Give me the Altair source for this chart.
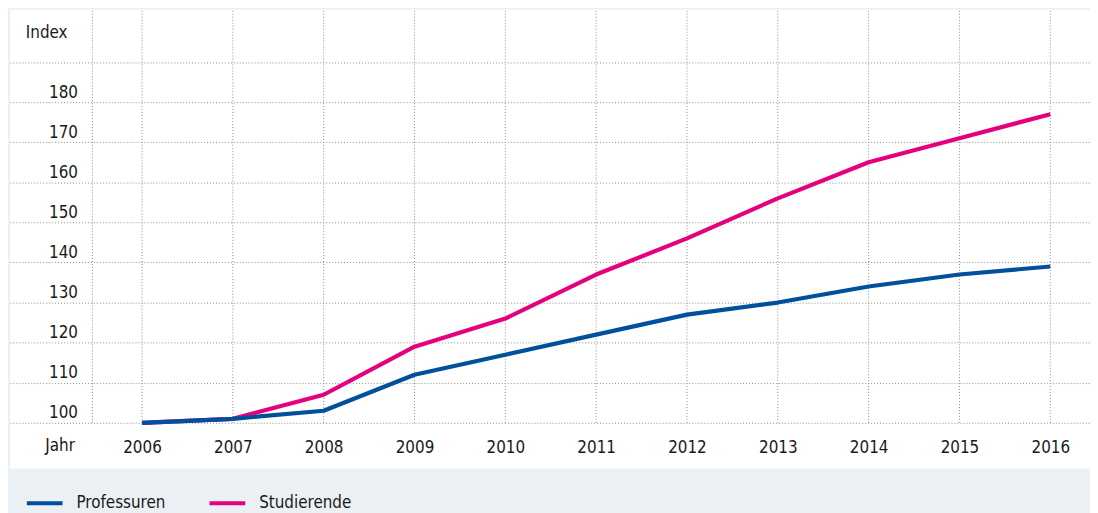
import altair as alt
import pandas as pd

years = [2006, 2007, 2008, 2009, 2010, 2011, 2012, 2013, 2014, 2015, 2016]
professuren = [100, 101, 103, 112, 117, 122, 127, 130, 134, 137, 139]
studierende = [100, 101, 107, 119, 126, 137, 146, 156, 165, 171, 177]
y_ticks = [100, 110, 120, 130, 140, 150, 160, 170, 180, 190]
series = ["Professuren", "Studierende"]
colors = ["#00509b", "#e5007d"]

FONT = "DejaVu Sans Condensed, DejaVu Sans, sans-serif"
FS = 17
GRID = "#8c8c8c"

df = pd.DataFrame({
    "Jahr": years * 2,
    "Index": professuren + studierende,
    "Serie": ["Professuren"] * len(years) + ["Studierende"] * len(years),
})

X_DOM = [2004.5464, 2016.4372]
Y_DOM = [88.61, 203.03]

xs = alt.Scale(domain=X_DOM, nice=False, zero=False)
ys = alt.Scale(domain=Y_DOM, nice=False, zero=False)

rules_df = pd.DataFrame({
    "Jahr": [2005.4536] + years,
    "lo": [100] * (len(years) + 1),
    "hi": [Y_DOM[1]] * (len(years) + 1),
})

vrules = alt.Chart(rules_df).mark_rule(color=GRID, strokeDash=[1, 2], strokeWidth=1).encode(
    x=alt.X("Jahr:Q", scale=xs, axis=alt.Axis(
        values=years, format="d", grid=False, domain=False, ticks=False, tickSize=0,
        labelFont=FONT, labelFontSize=FS, labelColor="#1a1a1a",
        labelBaseline="alphabetic", labelPadding=30, offset=-46, title=None)),
    y=alt.Y("lo:Q", scale=ys, axis=alt.Axis(
        values=y_ticks, grid=True, gridColor=GRID, gridDash=[1, 2], gridWidth=1,
        domain=False, ticks=False, tickSize=0,
        labelExpr="datum.value == 190 ? '' : datum.label",
        labelFont=FONT, labelFontSize=FS, labelColor="#1a1a1a",
        labelAlign="right", labelBaseline="alphabetic", labelOffset=-5,
        labelPadding=15, offset=-83, title=None)),
    y2="hi:Q",
)

color_enc = alt.Color("Serie:N", scale=alt.Scale(domain=series, range=colors),
                      legend=alt.Legend(
                          title=None, orient="none", direction="horizontal",
                          legendX=15, legendY=477, symbolType="stroke",
                          symbolSize=1296, symbolStrokeWidth=4,
                          labelFont=FONT, labelFontSize=FS, labelColor="#1a1a1a",
                          labelOffset=12, columnPadding=36, padding=0))

line_s = alt.Chart(df).transform_filter(alt.datum.Serie == "Studierende").mark_line(
    strokeWidth=4.2, strokeJoin="round").encode(
    x=alt.X("Jahr:Q", scale=xs), y=alt.Y("Index:Q", scale=ys), color=color_enc)
line_p = alt.Chart(df).transform_filter(alt.datum.Serie == "Professuren").mark_line(
    strokeWidth=4.2, strokeJoin="round").encode(
    x=alt.X("Jahr:Q", scale=xs), y=alt.Y("Index:Q", scale=ys), color=color_enc)

t_index = alt.Chart(pd.DataFrame({"t": ["Index"]})).mark_text(
    font=FONT, fontSize=FS, color="#1a1a1a", align="center", baseline="middle").encode(
    x=alt.value(37), y=alt.value(23), text="t:N")
t_jahr = alt.Chart(pd.DataFrame({"t": ["Jahr"]})).mark_text(
    font=FONT, fontSize=FS, color="#1a1a1a", align="center", baseline="middle").encode(
    x=alt.value(50.5), y=alt.value(439), text="t:N")

chart = alt.layer(vrules, line_s, line_p, t_index, t_jahr).properties(
    width=1088, height=462,
    autosize=alt.AutoSizeParams(type="none"),
    padding={"left": 2, "top": 0, "right": 0, "bottom": 43},
    background="#ebf0f4",
).configure_view(fill="#ffffff", stroke=None)

chart.save("out.html", embed_options={"renderer": "svg", "actions": False})
